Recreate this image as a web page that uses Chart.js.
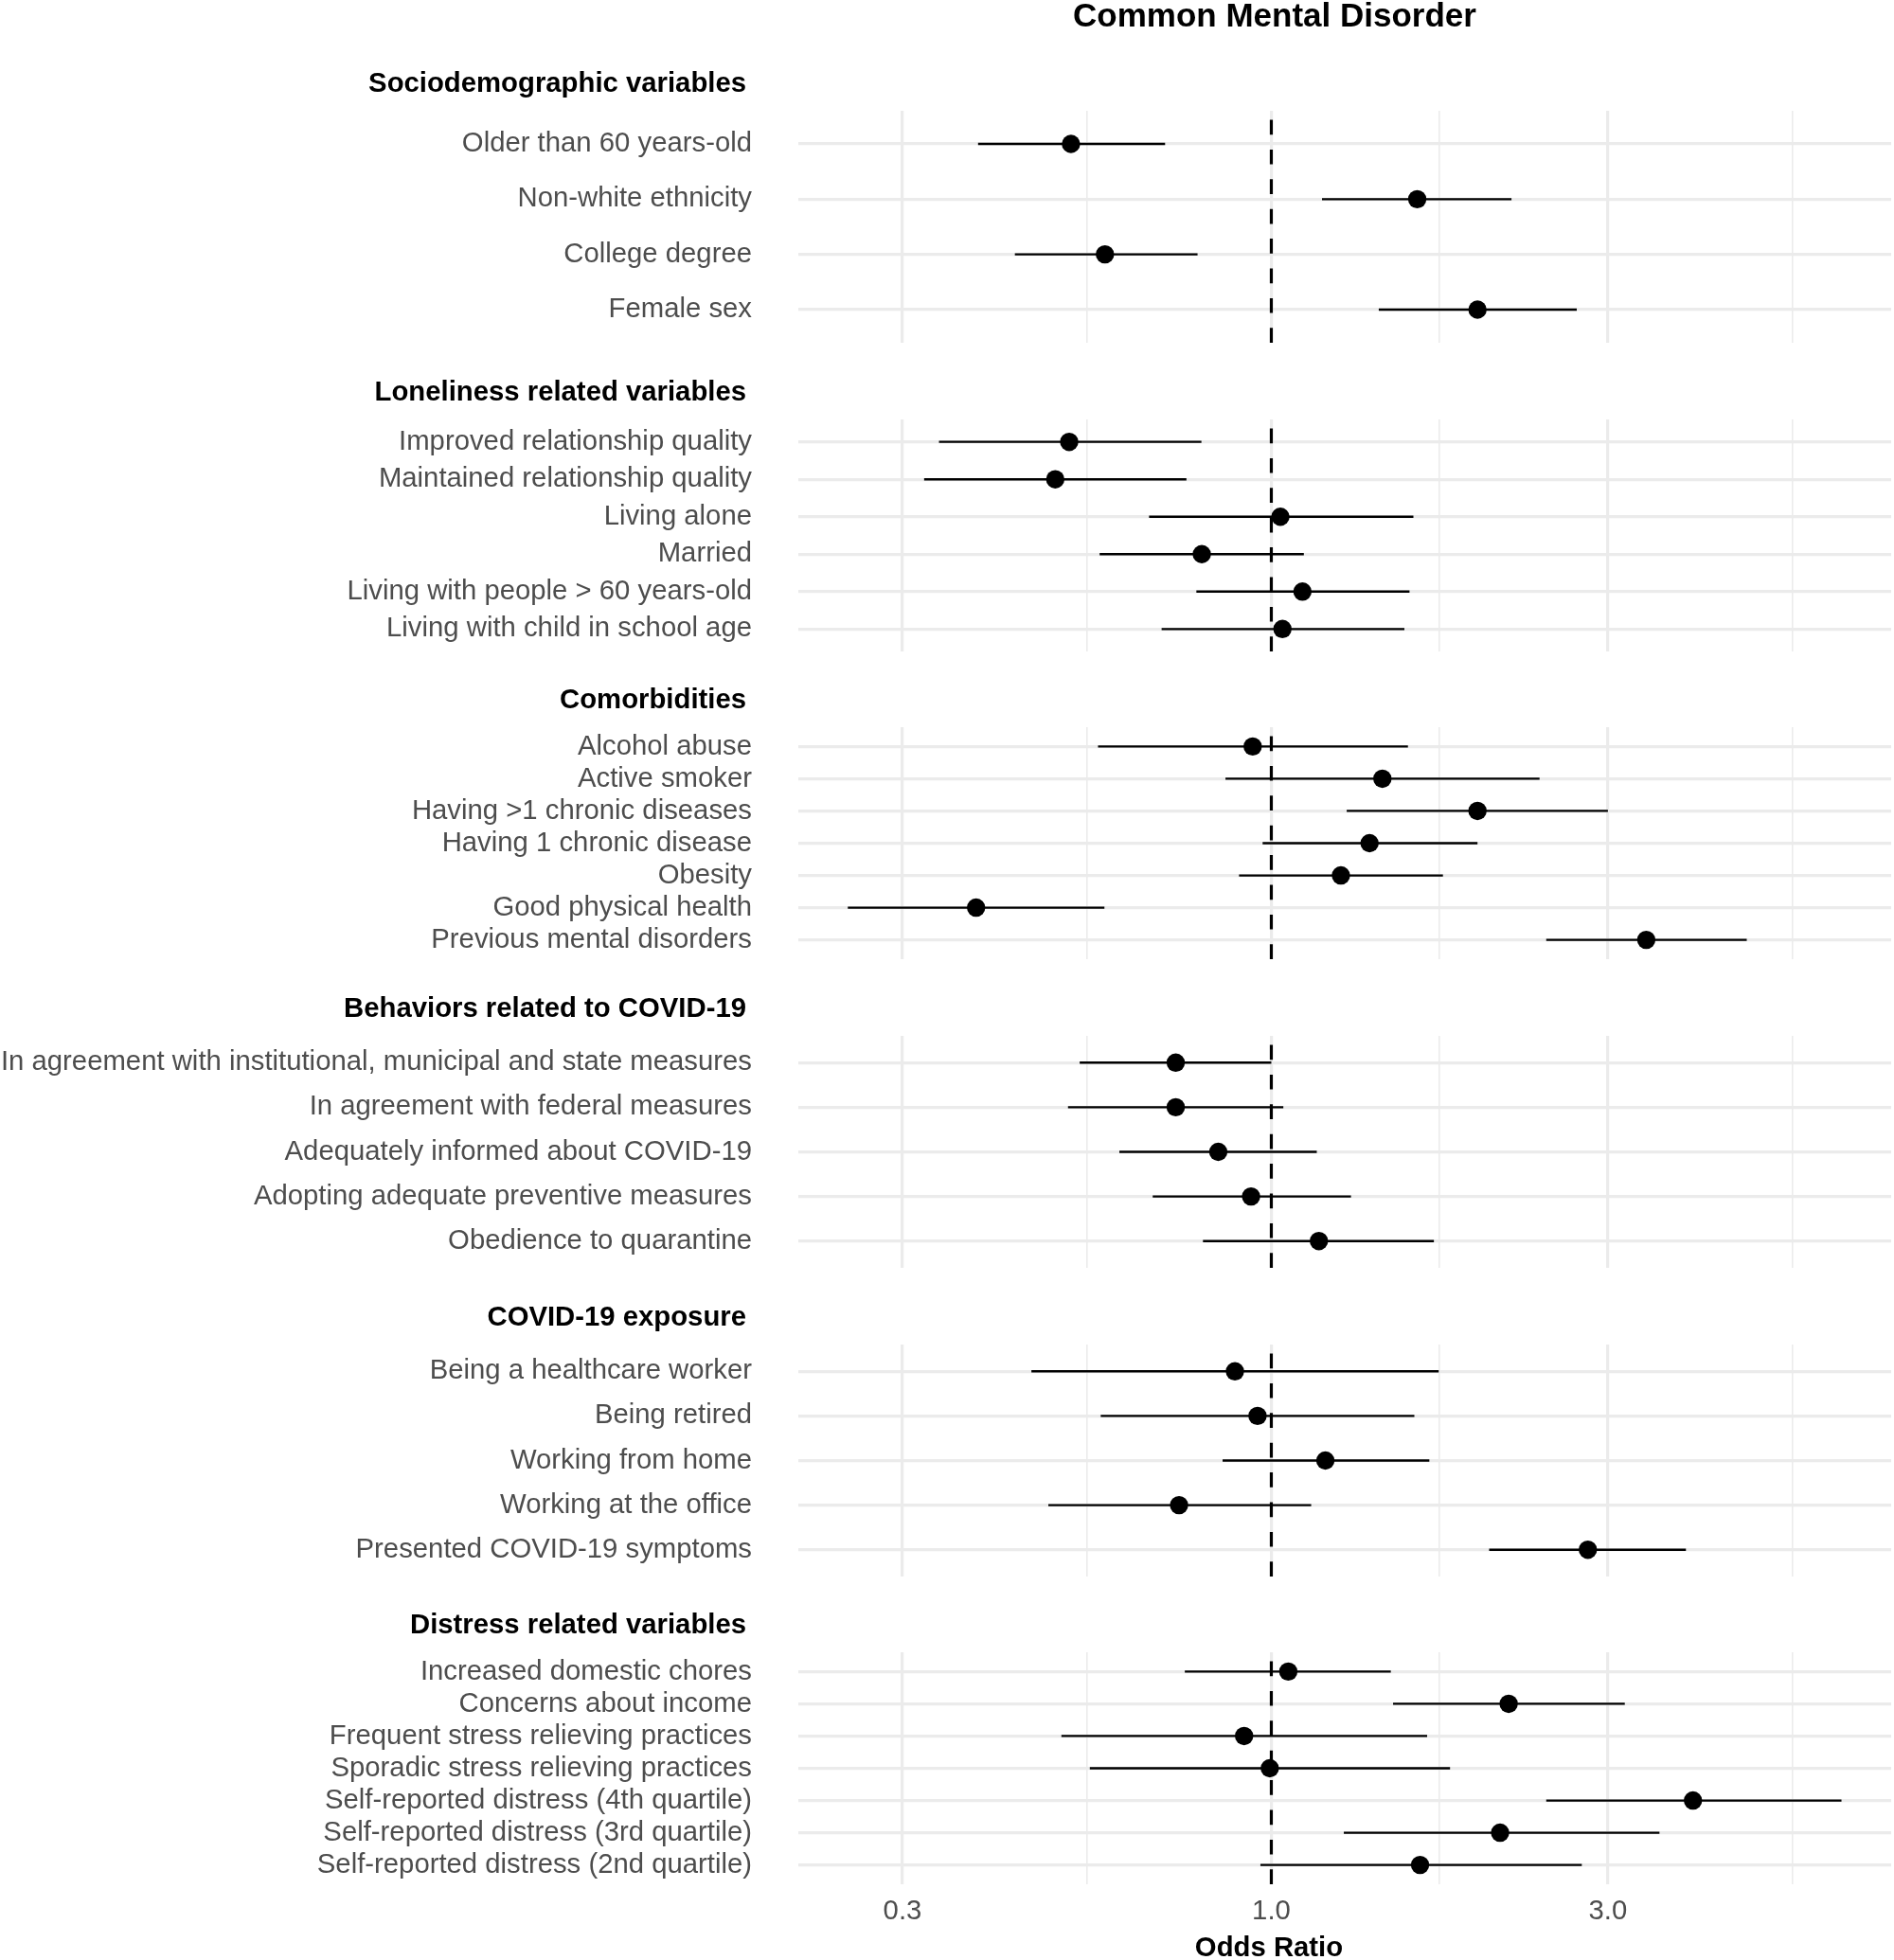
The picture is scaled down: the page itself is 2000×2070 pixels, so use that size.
<!DOCTYPE html>
<html>
<head>
<meta charset="utf-8">
<script src="https://cdn.jsdelivr.net/npm/chart.js@4.4.1/dist/chart.umd.min.js"></script>
<style>
  html, body { margin: 0; padding: 0; background: #ffffff; }
  #wrap { position: relative; width: 2000px; height: 2070px; overflow: hidden; background: #ffffff; }
  #wrap canvas { position: absolute; left: 0; }
</style>
</head>
<body>
<div id="wrap"></div>
<script>
// ---------------- DATA ----------------
const chartTitle = 'Common Mental Disorder';
const axisTitle = 'Odds Ratio';
const groupTitles = [
  'Sociodemographic variables',
  'Loneliness related variables',
  'Comorbidities',
  'Behaviors related to COVID-19',
  'COVID-19 exposure',
  'Distress related variables'
];

const socioLabels = ['Older than 60 years-old', 'Non-white ethnicity', 'College degree', 'Female sex'];
const socioOR   = [0.52, 1.61, 0.581, 1.96];
const socioLow  = [0.384, 1.18, 0.433, 1.42];
const socioHigh = [0.707, 2.19, 0.786, 2.71];

const lonelyLabels = ['Improved relationship quality', 'Maintained relationship quality', 'Living alone', 'Married',
  'Living with people > 60 years-old', 'Living with child in school age'];
const lonelyOR   = [0.517, 0.494, 1.03, 0.797, 1.107, 1.037];
const lonelyLow  = [0.338, 0.322, 0.671, 0.571, 0.783, 0.699];
const lonelyHigh = [0.796, 0.758, 1.59, 1.112, 1.57, 1.544];

const comorbLabels = ['Alcohol abuse', 'Active smoker', 'Having >1 chronic diseases', 'Having 1 chronic disease',
  'Obesity', 'Good physical health', 'Previous mental disorders'];
const comorbOR   = [0.941, 1.437, 1.96, 1.378, 1.255, 0.3815, 3.40];
const comorbLow  = [0.568, 0.861, 1.279, 0.972, 0.900, 0.251, 2.453];
const comorbHigh = [1.562, 2.40, 3.00, 1.96, 1.751, 0.580, 4.72];

const behavLabels = ['In agreement with institutional, municipal and state measures', 'In agreement with federal measures',
  'Adequately informed about COVID-19', 'Adopting adequate preventive measures', 'Obedience to quarantine'];
const behavOR   = [0.732, 0.732, 0.841, 0.936, 1.168];
const behavLow  = [0.535, 0.515, 0.609, 0.679, 0.800];
const behavHigh = [1.0, 1.04, 1.16, 1.297, 1.70];

const exposLabels = ['Being a healthcare worker', 'Being retired', 'Working from home', 'Working at the office',
  'Presented COVID-19 symptoms'];
const exposOR   = [0.888, 0.956, 1.193, 0.740, 2.81];
const exposLow  = [0.457, 0.573, 0.853, 0.483, 2.036];
const exposHigh = [1.727, 1.595, 1.675, 1.139, 3.87];

const distrLabels = ['Increased domestic chores', 'Concerns about income', 'Frequent stress relieving practices',
  'Sporadic stress relieving practices', 'Self-reported distress (4th quartile)', 'Self-reported distress (3rd quartile)',
  'Self-reported distress (2nd quartile)'];
const distrOR   = [1.057, 2.17, 0.915, 0.995, 3.96, 2.11, 1.625];
const distrLow  = [0.754, 1.488, 0.504, 0.553, 2.453, 1.267, 0.965];
const distrHigh = [1.477, 3.17, 1.663, 1.792, 6.43, 3.55, 2.755];

const xBreaks = [0.3, 1, 3];
const xTickLabels = ['0.3', '1.0', '3.0'];
const refLine = 1;

// ---------------- ASSEMBLY ----------------
const groups = [
  { title: groupTitles[0], labels: socioLabels,  or: socioOR,  lo: socioLow,  hi: socioHigh },
  { title: groupTitles[1], labels: lonelyLabels, or: lonelyOR, lo: lonelyLow, hi: lonelyHigh },
  { title: groupTitles[2], labels: comorbLabels, or: comorbOR, lo: comorbLow, hi: comorbHigh },
  { title: groupTitles[3], labels: behavLabels,  or: behavOR,  lo: behavLow,  hi: behavHigh },
  { title: groupTitles[4], labels: exposLabels,  or: exposOR,  lo: exposLow,  hi: exposHigh },
  { title: groupTitles[5], labels: distrLabels,  or: distrOR,  lo: distrLow,  hi: distrHigh }
];

// shared log x range with 5% expansion (like ggplot)
const allLo = groups.flatMap(g => g.lo), allHi = groups.flatMap(g => g.hi);
const lmin = Math.log10(Math.min(...allLo)), lmax = Math.log10(Math.max(...allHi));
const ext = (lmax - lmin) * 0.05;
const xMin = Math.pow(10, lmin - ext), xMax = Math.pow(10, lmax + ext);

// minor breaks: geometric midpoints between (extended) major breaks
const lb = xBreaks.map(Math.log10);
const bd = lb[1] - lb[0];
const lbExt = [lb[0] - bd, ...lb, lb[lb.length - 1] + bd];
const minorBreaks = [];
for (let i = 0; i < lbExt.length - 1; i++) {
  const m = Math.pow(10, (lbExt[i] + lbExt[i + 1]) / 2);
  if (m > xMin && m < xMax) minorBreaks.push(m);
}
const allBreaks = [...xBreaks, ...minorBreaks].sort((a, b) => a - b);
const isMajor = v => xBreaks.some(b => Math.abs(b - v) < 1e-9);

// ---------------- LAYOUT / STYLE ----------------
const FONT = "'Liberation Sans', Arial, Helvetica, sans-serif";
const TXT = 29.3;
const panelTops = [117, 443, 768, 1094, 1420, 1745];
const PANEL_H = 245;
const PANEL_LEFT = 842.8;
const RIGHT_PAD = 3;
const SPARE_BOTTOM = 72;   // empty room below non-final panels (transparent overlap)
const GRID = '#EBEBEB';

function textPlugin(items) {
  return {
    id: 'facetText',
    afterDraw(chart) {
      const ctx = chart.ctx;
      items.forEach(it => {
        ctx.save();
        ctx.font = it.font;
        ctx.fillStyle = it.color;
        ctx.textAlign = it.align;
        ctx.textBaseline = 'middle';
        ctx.fillText(it.text, it.x, it.y);
        ctx.restore();
      });
    }
  };
}

const wrap = document.getElementById('wrap');

groups.forEach((g, gi) => {
  const last = gi === groups.length - 1;
  const canvasTop = gi === 0 ? 0 : panelTops[gi] - 80;
  const padTop = panelTops[gi] - canvasTop;
  const axisRoom = last ? 2070 - (panelTops[gi] + PANEL_H) : 0;
  const padBottom = last ? 0 : SPARE_BOTTOM;
  const height = padTop + PANEL_H + axisRoom + padBottom;
  const n = g.labels.length;

  const canvas = document.createElement('canvas');
  canvas.width = 2000;
  canvas.height = height;
  canvas.style.top = canvasTop + 'px';
  canvas.style.width = '2000px';
  canvas.style.height = height + 'px';
  wrap.appendChild(canvas);

  const points = g.or.map((v, i) => ({ x: v, y: i }));
  const ciData = [];
  g.lo.forEach((lo, i) => {
    ciData.push({ x: lo, y: i }, { x: g.hi[i], y: i }, { x: g.hi[i], y: null });
  });

  const items = [
    { text: g.title, x: 788, y: padTop - 28, font: `bold ${TXT}px ${FONT}`, color: '#000000', align: 'right' }
  ];
  if (gi === 0) items.push({ text: chartTitle, x: 1346, y: 18, font: `bold 35px ${FONT}`, color: '#000000', align: 'center' });
  if (last) items.push({ text: axisTitle, x: 1340, y: padTop + PANEL_H + 68, font: `bold ${TXT}px ${FONT}`, color: '#000000', align: 'center' });

  new Chart(canvas, {
    type: 'scatter',
    data: {
      datasets: [
        {
          type: 'scatter', label: 'OR', data: points, order: 0,
          pointRadius: 9.7, pointHoverRadius: 9.7, pointBackgroundColor: '#000000',
          pointBorderWidth: 0, pointBorderColor: '#000000'
        },
        {
          type: 'line', label: 'CI', data: ciData, order: 1,
          borderColor: '#000000', borderWidth: 2.3, pointRadius: 0, pointHoverRadius: 0,
          spanGaps: false, fill: false, tension: 0, borderCapStyle: 'butt'
        },
        {
          type: 'line', label: 'ref', order: 2,
          data: [{ x: refLine, y: n - 0.4 }, { x: refLine, y: -0.6 }],
          borderColor: '#000000', borderWidth: 3.2, borderDash: [15.7, 15.7],
          pointRadius: 0, pointHoverRadius: 0, fill: false, borderCapStyle: 'butt'
        }
      ]
    },
    options: {
      responsive: false,
      animation: false,
      events: [],
      devicePixelRatio: 1,
      layout: { autoPadding: false, padding: { top: padTop, right: RIGHT_PAD, bottom: padBottom, left: 0 } },
      plugins: { legend: { display: false }, tooltip: { enabled: false }, title: { display: false } },
      scales: {
        x: {
          type: 'logarithmic', position: 'bottom', min: xMin, max: xMax, bounds: 'data',
          afterBuildTicks: s => { s.ticks = allBreaks.map(v => ({ value: v, major: isMajor(v) })); },
          afterFit: s => { s.height = axisRoom; s.paddingLeft = 0; s.paddingRight = 0; },
          grid: { color: GRID, lineWidth: c => (c.tick && isMajor(c.tick.value)) ? 3.2 : 1.6, drawTicks: false },
          border: { display: false },
          ticks: {
            display: last, autoSkip: false, maxRotation: 0, minRotation: 0, padding: 11,
            color: '#4D4D4D', font: { family: FONT, size: TXT },
            callback: v => { const k = xBreaks.findIndex(b => Math.abs(b - v) < 1e-9); return k >= 0 ? xTickLabels[k] : ''; }
          },
          title: { display: false }
        },
        y: {
          type: 'linear', position: 'left', reverse: true, min: -0.6, max: n - 0.4, bounds: 'data',
          afterBuildTicks: s => { s.ticks = g.labels.map((_, i) => ({ value: i })); },
          afterFit: s => { s.width = PANEL_LEFT; s.paddingTop = 0; s.paddingBottom = 0; },
          grid: { color: GRID, lineWidth: 3.2, drawTicks: false },
          border: { display: false },
          ticks: {
            autoSkip: false, padding: 48.8, color: '#4D4D4D', font: { family: FONT, size: TXT },
            callback: v => g.labels[v]
          }
        }
      }
    },
    plugins: [textPlugin(items)]
  });
});
</script>
</body>
</html>
